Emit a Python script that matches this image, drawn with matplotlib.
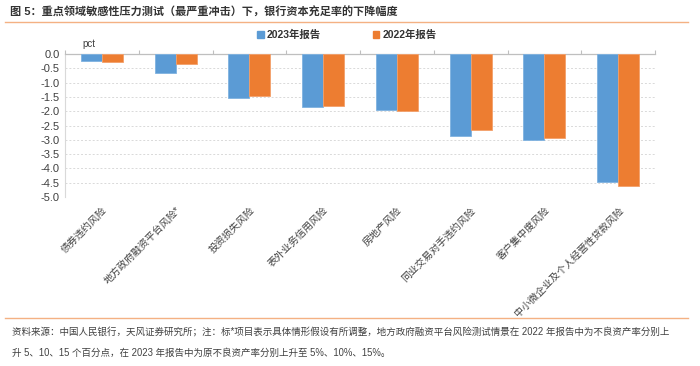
import matplotlib
matplotlib.use("Agg")
import matplotlib.pyplot as plt
from matplotlib.lines import Line2D
from matplotlib.patches import Patch
import numpy as np

plt.rcParams['font.family'] = ['Liberation Sans', 'Noto Sans CJK SC', 'DejaVu Sans']

categories = ["债券违约风险", "地方政府融资平台风险*", "投资损失风险", "表外业务信用风险",
              "房地产风险", "同业交易对手违约风险", "客户集中度风险", "中小微企业及个人经营性贷款风险"]
series_names = ["2023年报告", "2022年报告"]
vals_2023 = [-0.25, -0.67, -1.55, -1.85, -1.95, -2.88, -3.01, -4.49]
vals_2022 = [-0.27, -0.35, -1.46, -1.83, -2.00, -2.66, -2.95, -4.60]
yticks = [0.0, -0.5, -1.0, -1.5, -2.0, -2.5, -3.0, -3.5, -4.0, -4.5, -5.0]

blue = "#5B9BD5"
orange = "#ED7D31"
W, H = 700, 366
fig = plt.figure(figsize=(7, 3.66), dpi=100)

ax = fig.add_axes([65 / W, 1 - 197 / H, 590 / W, 143 / H])
x = np.arange(len(categories))
bw = 0.285
ax.bar(x - bw / 2, vals_2023, bw, color=blue, edgecolor="#7FB2E0", linewidth=0.6, zorder=3)
ax.bar(x + bw / 2, vals_2022, bw, color=orange, edgecolor="#F3A06A", linewidth=0.6, zorder=3)

ax.set_xlim(-0.5, len(categories) - 0.5)
ax.set_ylim(-5.0, 0.0)
ax.set_yticks(yticks)
ax.set_yticklabels([f"{v:.1f}" for v in yticks], fontsize=8, color="#404040")
ax.tick_params(axis='y', length=0, pad=4)

ax.set_xticks(x)
ax.set_xticklabels(categories, rotation=45, ha='right', va='top', rotation_mode='anchor',
                   fontsize=7.2, color="#404040")
ax.tick_params(axis='x', which='major', length=0, pad=6)
ax.set_xticks(np.arange(-0.5, len(categories)), minor=True)
ax.tick_params(axis='x', which='minor', top=True, bottom=False, direction='out', length=3,
               color="#BFBFBF", width=0.8)

for yv in yticks[1:]:
    ax.axhline(yv, color="#D9D9D9", linestyle=(0, (2, 2)), linewidth=0.7, zorder=1)

for s in ['right', 'bottom']:
    ax.spines[s].set_visible(False)
ax.spines['top'].set_color("#BFBFBF")
ax.spines['top'].set_linewidth(0.9)
ax.spines['left'].set_color("#D9D9D9")
ax.spines['left'].set_linewidth(0.8)

# legend
handles = [Patch(facecolor=blue, edgecolor=blue), Patch(facecolor=orange, edgecolor=orange)]
leg = fig.legend(handles, series_names, loc='center', bbox_to_anchor=(347 / W, 1 - 35 / H),
                 ncol=2, frameon=False, fontsize=7.5, handlelength=0.6, handleheight=0.6,
                 handletextpad=0.3, columnspacing=5.0)
for t in leg.get_texts():
    t.set_fontweight('bold')
    t.set_color("#333333")

fig.text(82 / W, 1 - 44 / H, "pct", fontsize=7, color="#404040", va='center', ha='left')

# title and rules
fig.text(10 / W, 1 - 12 / H, "图 5：重点领域敏感性压力测试（最严重冲击）下，银行资本充足率的下降幅度",
         fontsize=8, fontweight='bold', color="#333333", va='center', ha='left')
fig.add_artist(Line2D([5 / W, 688 / W], [1 - 22 / H, 1 - 22 / H], color="#F4B183", linewidth=1.0))
fig.add_artist(Line2D([5 / W, 688 / W], [1 - 318 / H, 1 - 318 / H], color="#F4B183", linewidth=1.0))

fig.text(12 / W, 1 - 333 / H,
         "资料来源：中国人民银行，天风证券研究所；注：标*项目表示具体情形假设有所调整，地方政府融资平台风险测试情景在 2022 年报告中为不良资产率分别上",
         fontsize=6.85, color="#404040", va='center', ha='left')
fig.text(12 / W, 1 - 353 / H,
         "升 5、10、15 个百分点，在 2023 年报告中为原不良资产率分别上升至 5%、10%、15%。",
         fontsize=6.85, color="#404040", va='center', ha='left')

fig.savefig("out.png", dpi=100)
